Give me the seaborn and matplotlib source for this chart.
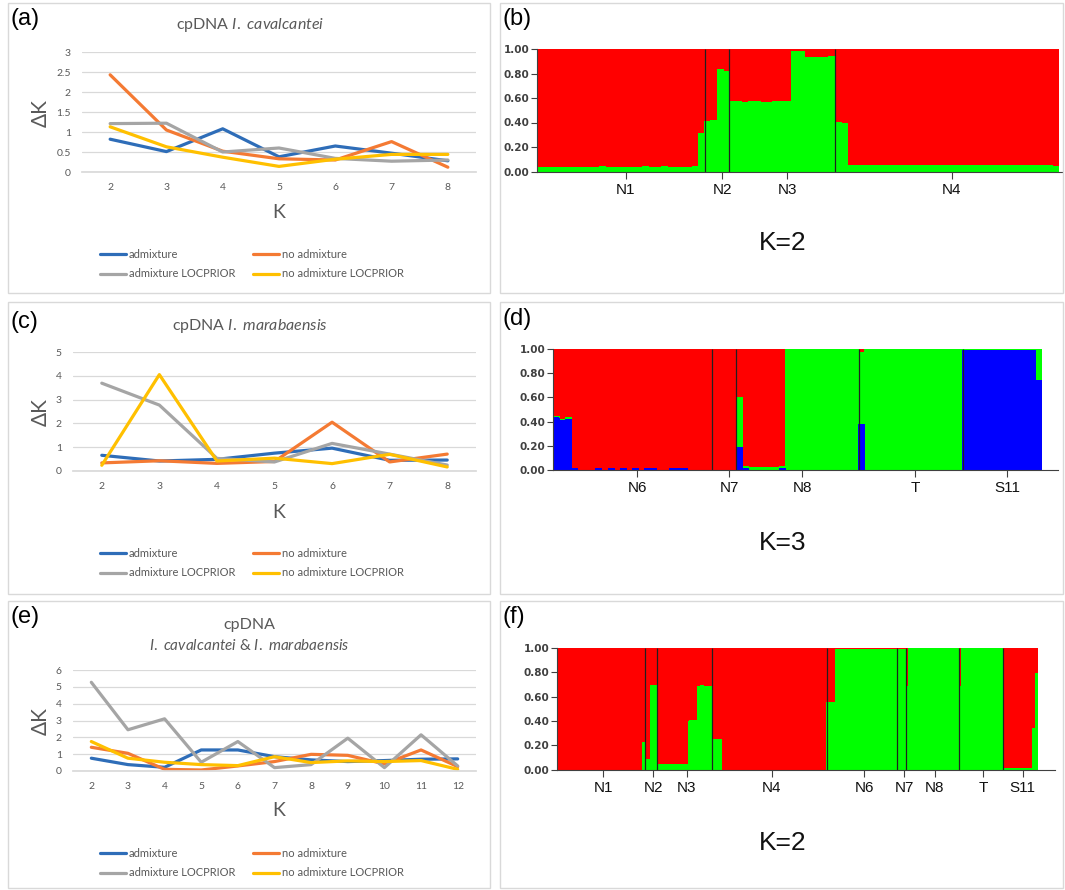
import numpy as np
import pandas as pd
import matplotlib
matplotlib.use("Agg")
import matplotlib.pyplot as plt
import seaborn as sns
from matplotlib.lines import Line2D
from matplotlib.patches import Rectangle

W, H = 1065, 890

RUNS = ["admixture", "no admixture", "admixture LOCPRIOR", "no admixture LOCPRIOR"]
RUN_COLORS = ["#2E6DB8", "#F47A33", "#A5A5A5", "#FFC000"]

# ---- Delta K, cpDNA I. cavalcantei (a)
K_CAV = [2, 3, 4, 5, 6, 7, 8]
CAV_ADMIX = [0.82, 0.51, 1.08, 0.38, 0.65, 0.47, 0.28]
CAV_NOADMIX = [2.43, 1.05, 0.52, 0.33, 0.30, 0.76, 0.12]
CAV_ADMIX_LOC = [1.21, 1.22, 0.50, 0.60, 0.34, 0.27, 0.30]
CAV_NOADMIX_LOC = [1.13, 0.63, 0.37, 0.14, 0.32, 0.44, 0.44]

# ---- Delta K, cpDNA I. marabaensis (c)
K_MAR = [2, 3, 4, 5, 6, 7, 8]
MAR_ADMIX = [0.66, 0.42, 0.49, 0.75, 0.96, 0.45, 0.46]
MAR_NOADMIX = [0.34, 0.43, 0.32, 0.40, 2.05, 0.38, 0.71]
MAR_ADMIX_LOC = [3.69, 2.77, 0.53, 0.38, 1.16, 0.71, 0.25]
MAR_NOADMIX_LOC = [0.24, 4.05, 0.42, 0.54, 0.31, 0.70, 0.17]

# ---- Delta K, both species (e)
K_ALL = [2, 3, 4, 5, 6, 7, 8, 9, 10, 11, 12]
ALL_ADMIX = [0.76, 0.38, 0.22, 1.25, 1.25, 0.85, 0.66, 0.56, 0.62, 0.70, 0.72]
ALL_NOADMIX = [1.41, 1.05, 0.10, 0.06, 0.30, 0.56, 0.99, 0.93, 0.42, 1.25, 0.26]
ALL_ADMIX_LOC = [5.27, 2.45, 3.10, 0.52, 1.75, 0.20, 0.38, 1.95, 0.20, 2.15, 0.30]
ALL_NOADMIX_LOC = [1.75, 0.76, 0.52, 0.38, 0.32, 0.85, 0.50, 0.60, 0.56, 0.62, 0.10]

# ---- STRUCTURE (b), K=2: green membership per individual (red = rest)
POPS_B = ["N1", "N2", "N3", "N4"]
B_N1 = [0.03, 0.03, 0.03, 0.03, 0.03, 0.03, 0.03, 0.03, 0.03, 0.03, 0.04, 0.03, 0.03, 0.03,
        0.03, 0.03, 0.03, 0.04, 0.03, 0.03, 0.04, 0.03, 0.03, 0.03, 0.03, 0.04, 0.31]
B_N2 = [0.41, 0.42, 0.83, 0.82]
B_N3 = [0.57, 0.57, 0.56, 0.57, 0.57, 0.56, 0.56, 0.57, 0.57, 0.57, 0.98, 0.98,
        0.93, 0.93, 0.93, 0.93, 0.94]
B_N4 = [0.40, 0.39,
        0.05, 0.05, 0.05, 0.05, 0.045, 0.05, 0.05, 0.045, 0.05, 0.05,
        0.05, 0.045, 0.05, 0.05, 0.05, 0.05, 0.05, 0.05, 0.05, 0.045,
        0.05, 0.05, 0.05, 0.05, 0.045, 0.05, 0.05, 0.05, 0.05, 0.05,
        0.045, 0.05, 0.05, 0.04]

# ---- STRUCTURE (d), K=3: blue and green membership (red = rest)
POPS_D = ["N6", "N7", "N8", "T", "S11"]
D_N6_BLUE = [0.43, 0.41, 0.42, 0.01, 0.0, 0.0, 0.0, 0.01, 0.0, 0.01, 0.0, 0.01, 0.0,
             0.01, 0.0, 0.01, 0.01, 0.0, 0.0, 0.01, 0.01, 0.01, 0.0, 0.0, 0.0, 0.0]
D_N6_GREEN = [0.01, 0.01, 0.01, 0.0, 0.0, 0.0, 0.0, 0.0, 0.0, 0.0, 0.0, 0.0, 0.0,
              0.0, 0.0, 0.0, 0.0, 0.0, 0.0, 0.0, 0.0, 0.0, 0.0, 0.0, 0.0, 0.0]
D_N7_BLUE = [0.0, 0.0, 0.0, 0.0]
D_N7_GREEN = [0.0, 0.0, 0.0, 0.0]
D_N8_BLUE = [0.19, 0.01, 0.0, 0.0, 0.0, 0.0, 0.0, 0.01,
             0.0, 0.0, 0.0, 0.0, 0.0, 0.0, 0.0, 0.0, 0.0, 0.0, 0.0, 0.0]
D_N8_GREEN = [0.41, 0.02, 0.02, 0.02, 0.02, 0.02, 0.02, 0.02,
              0.995, 0.995, 0.995, 0.995, 0.995, 0.995, 0.995, 0.995, 0.995, 0.995, 0.995, 0.995]
D_T_BLUE = [0.38, 0.0, 0.0, 0.0, 0.0, 0.0, 0.0, 0.0, 0.0, 0.0, 0.0, 0.0, 0.0, 0.0, 0.0, 0.0, 0.0]
D_T_GREEN = [0.59, 1.0, 1.0, 1.0, 1.0, 1.0, 1.0, 1.0, 1.0, 1.0, 1.0, 1.0, 1.0, 0.995, 1.0, 1.0, 1.0]
D_S11_BLUE = [0.99, 0.99, 0.99, 0.99, 0.99, 0.99, 0.99, 0.99, 0.99, 0.99, 0.99, 0.99, 0.74]
D_S11_GREEN = [0.005, 0.005, 0.005, 0.005, 0.005, 0.005, 0.005, 0.005, 0.005, 0.005, 0.005,
               0.005, 0.26]

# ---- STRUCTURE (f), K=2, both species: green membership (red = rest)
POPS_F = ["N1", "N2", "N3", "N4", "N6", "N7", "N8", "T", "S11"]
F_N1 = [0.0, 0.0, 0.0, 0.0, 0.0, 0.0, 0.0, 0.0, 0.0, 0.0, 0.0, 0.0, 0.0, 0.0, 0.0,
        0.0, 0.0, 0.0, 0.0, 0.0, 0.0, 0.0, 0.0, 0.0, 0.0, 0.0, 0.0, 0.0, 0.0, 0.22]
F_N2 = [0.08, 0.08, 0.69, 0.69]
F_N3 = [0.04, 0.04, 0.04, 0.04, 0.04, 0.04, 0.04, 0.04, 0.04, 0.04, 0.04,
        0.40, 0.40, 0.40, 0.68, 0.69, 0.68, 0.68, 0.68]
F_N4 = [0.25, 0.25, 0.25, 0.0, 0.0, 0.0, 0.0, 0.0, 0.0, 0.0, 0.0, 0.0, 0.0, 0.0, 0.0, 0.0,
        0.0, 0.0, 0.0, 0.0, 0.0, 0.0, 0.0, 0.0, 0.0, 0.0, 0.0, 0.0, 0.0, 0.0, 0.0, 0.0,
        0.0, 0.0, 0.0, 0.0, 0.0, 0.0, 0.0]
F_N6 = [0.55, 0.55, 0.55, 0.99, 0.99, 0.99, 0.99, 0.99, 0.99, 0.99, 0.99, 0.99, 0.99,
        0.99, 0.99, 0.99, 0.99, 0.99, 0.99, 0.99, 0.99, 0.99, 0.99, 0.99]
F_N7 = [0.99, 0.99, 0.99]
F_N8 = [0.68, 1.0, 1.0, 1.0, 1.0, 1.0, 1.0, 1.0, 1.0, 1.0, 1.0, 1.0, 1.0, 1.0, 1.0, 1.0, 1.0, 1.0]
F_T = [0.68, 1.0, 1.0, 1.0, 1.0, 1.0, 1.0, 1.0, 1.0, 1.0, 1.0, 1.0, 1.0, 1.0, 1.0]
F_S11 = [0.01, 0.01, 0.01, 0.01, 0.01, 0.01, 0.01, 0.01, 0.01, 0.01, 0.34, 0.79]

RED, GREEN, BLUE = "#FF0000", "#00FF00", "#0000FF"

sns.set_theme(style="white")
plt.rcParams["font.family"] = ["Lato", "DejaVu Sans"]
plt.rcParams["mathtext.fontset"] = "custom"
plt.rcParams["mathtext.rm"] = "Lato"
plt.rcParams["mathtext.it"] = "Lato:italic"
plt.rcParams["mathtext.bf"] = "Lato:bold"

fig = plt.figure(figsize=(W / 100, H / 100), dpi=100)
ARIAL = ["Liberation Sans", "DejaVu Sans"]


def rect(l, t, r, b):
    return [l / W, 1 - b / H, (r - l) / W, (b - t) / H]


def ftext(x, y, s, **kw):
    return fig.text(x / W, 1 - y / H, s, **kw)


def line_panel(ax, ks, series, ymax, ystep):
    frames = [pd.DataFrame({"K": ks, "dK": vals, "run": run}) for run, vals in zip(RUNS, series)]
    df = pd.concat(frames, ignore_index=True)
    sns.lineplot(data=df, x="K", y="dK", hue="run", hue_order=RUNS, palette=RUN_COLORS,
                 linewidth=2.3, errorbar=None, legend=False, ax=ax,
                 solid_capstyle="round", solid_joinstyle="round")
    ax.set_xlim(ks[0] - 0.5, ks[-1] + 0.5)
    ax.set_ylim(0, ymax)
    yt = np.arange(0, ymax + ystep / 2, ystep)
    ax.set_yticks(yt)
    ax.set_yticklabels([f"{v:g}" for v in yt])
    ax.set_xticks(ks)
    ax.set_xticklabels([str(k) for k in ks])
    ax.grid(axis="y", color="#D9D9D9", lw=0.9)
    ax.grid(axis="x", visible=False)
    for s in ["top", "right", "left"]:
        ax.spines[s].set_visible(False)
    ax.spines["bottom"].set_color("#D9D9D9")
    ax.tick_params(length=0, labelsize=7.5, labelcolor="#595959")
    ax.tick_params(axis="x", pad=8)
    ax.tick_params(axis="y", pad=8)
    ax.set_xlabel("")
    ax.set_ylabel("")
    ax.set_facecolor("none")


def structure_panel(ax, pops, layers, colors, axis_px, bars_px):
    sizes = [len(p) for p in layers[0]]
    n = sum(sizes)
    idx = np.arange(n)
    cum = np.zeros(n)
    tops = []
    for layer in layers:
        cum = cum + np.concatenate(layer)
        tops.append(cum.copy())
    tops.append(np.ones(n))  # red cluster fills the remainder up to 1
    for top, color in reversed(list(zip(tops, colors))):
        sns.barplot(x=idx, y=top, color=color, width=1.0, saturation=1,
                    linewidth=0, antialiased=False, snap=False,
                    errorbar=None, orient="x", ax=ax)
    ends = np.cumsum(sizes)
    ax.vlines(ends[:-1] - 0.5, 0, 1, color="#202020", lw=0.9)
    centers = ends - np.array(sizes) / 2 - 0.5 + 0.8
    ax.set_xlim(-0.5, -0.5 + n * axis_px / bars_px)
    ax.set_ylim(0, 1)
    ax.set_xticks(centers)
    ax.set_xticklabels(pops, fontfamily=ARIAL, fontsize=11, color="#111111")
    yt = [0, 0.2, 0.4, 0.6, 0.8, 1.0]
    ax.set_yticks(yt)
    ax.set_yticklabels([f"{v:.2f}" for v in yt], fontfamily="DejaVu Sans",
                       fontweight="bold", fontsize=7.5, color="#404040")
    ax.tick_params(axis="y", length=4, width=0.8, pad=1.5, color="#404040", left=True)
    ax.tick_params(axis="x", length=5, width=0.8, pad=3, color="#404040", bottom=True)
    for s in ["top", "right"]:
        ax.spines[s].set_visible(False)
    for s in ["left", "bottom"]:
        ax.spines[s].set_color("#404040")
        ax.spines[s].set_linewidth(0.8)
    ax.set_xlabel("")
    ax.set_ylabel("")


# panel frames
for (l, t, r, b) in [(8, 3, 490, 293), (500, 3, 1063, 293), (8, 302, 490, 594),
                     (500, 302, 1063, 594), (8, 601, 490, 888), (500, 601, 1063, 888)]:
    fig.add_artist(Rectangle((l / W, 1 - b / H), (r - l) / W, (b - t) / H,
                             transform=fig.transFigure, fill=False, ec="#D9D9D9", lw=1))

# ---- left column: Delta K
ax_a = fig.add_axes(rect(82, 52, 476, 172))
line_panel(ax_a, K_CAV, [CAV_ADMIX, CAV_NOADMIX, CAV_ADMIX_LOC, CAV_NOADMIX_LOC], 3, 0.5)
ax_c = fig.add_axes(rect(73, 352, 476, 471))
line_panel(ax_c, K_MAR, [MAR_ADMIX, MAR_NOADMIX, MAR_ADMIX_LOC, MAR_NOADMIX_LOC], 5, 1)
ax_e = fig.add_axes(rect(73, 670, 476, 771))
line_panel(ax_e, K_ALL, [ALL_ADMIX, ALL_NOADMIX, ALL_ADMIX_LOC, ALL_NOADMIX_LOC], 6, 1)

title_kw = dict(ha="center", va="center", fontsize=11.5, color="#595959")
ftext(250, 25, r"cpDNA $\mathit{I.\ cavalcantei}$", **title_kw)
ftext(250, 326, r"cpDNA $\mathit{I.\ marabaensis}$", **title_kw)
ftext(249, 625, "cpDNA", **title_kw)
ftext(249, 645, r"$\mathit{I.\ cavalcantei}$ & $\mathit{I.\ marabaensis}$",
      **dict(title_kw, fontsize=11))

for yl, xl in [(113, 213), (412, 512), (721, 811)]:
    ftext(41, yl, "ΔK", rotation=90, ha="center", va="center", fontsize=15, color="#595959")
    ftext(279, xl, "K", ha="center", va="center", fontsize=14, color="#595959")

order = [0, 2, 1, 3]
handles = [Line2D([0], [0], color=RUN_COLORS[i], lw=2.3) for i in order]
labels = [RUNS[i] for i in order]
for yc in [264, 563, 863]:
    fig.legend(handles, labels, ncol=2, loc="center", bbox_to_anchor=(252 / W, 1 - yc / H),
               frameon=False, fontsize=8, handlelength=2.3, handletextpad=0.3,
               columnspacing=1.6, labelspacing=0.8, labelcolor="#595959")

# ---- right column: STRUCTURE bar plots
ax_b = fig.add_axes(rect(537, 49, 1062, 171.5))
structure_panel(ax_b, POPS_B, [[B_N1, B_N2, B_N3, B_N4]], [GREEN, RED],
                1062 - 537, 1058.6 - 537)
ax_d = fig.add_axes(rect(553, 349, 1058, 470))
structure_panel(ax_d, POPS_D,
                [[D_N6_BLUE, D_N7_BLUE, D_N8_BLUE, D_T_BLUE, D_S11_BLUE],
                 [D_N6_GREEN, D_N7_GREEN, D_N8_GREEN, D_T_GREEN, D_S11_GREEN]],
                [BLUE, GREEN, RED], 1058 - 553, 1042 - 553)
ax_f = fig.add_axes(rect(557, 648, 1055, 769.5))
structure_panel(ax_f, POPS_F, [[F_N1, F_N2, F_N3, F_N4, F_N6, F_N7, F_N8, F_T, F_S11]],
                [GREEN, RED], 1055 - 557, 1038 - 557)

for yk, txt in [(243, "K=2"), (543, "K=3"), (843, "K=2")]:
    ftext(783, yk, txt, ha="center", va="center", fontsize=19, fontfamily=ARIAL, color="#111111")

for (x, y, s) in [(11, 19, "(a)"), (502, 19, "(b)"), (11, 322, "(c)"), (502, 319, "(d)"),
                  (11, 617, "(e)"), (502, 617, "(f)")]:
    ftext(x, y, s, ha="left", va="center", fontsize=17, fontfamily=ARIAL, color="black")

fig.savefig("out.png", dpi=100)
